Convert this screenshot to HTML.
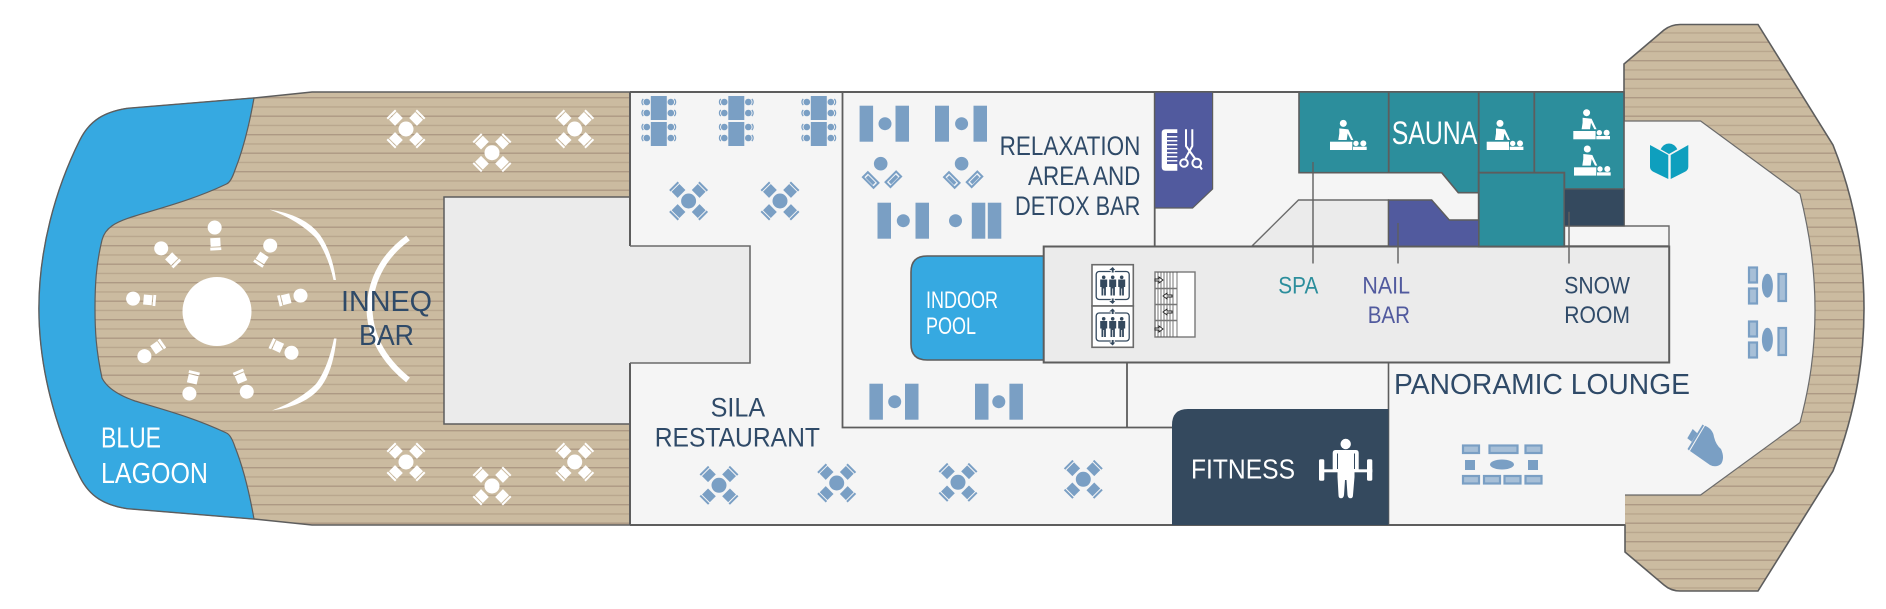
<!DOCTYPE html>
<html><head><meta charset="utf-8"><title>Deck plan</title>
<style>
html,body{margin:0;padding:0;background:#fff}
svg{display:block}
text{font-family:"Liberation Sans",sans-serif}
</style></head><body>
<svg xmlns="http://www.w3.org/2000/svg" width="1886" height="609" viewBox="0 0 1886 609">
<defs>
<pattern id="deck" patternUnits="userSpaceOnUse" x="0" y="97" width="20" height="18.5">
<rect width="20" height="18.5" fill="#cbbba0"/>
<rect y="0" width="20" height="1.4" fill="#ad9984"/>
<rect y="9.25" width="20" height="1.4" fill="#b9a78e"/>
</pattern>
<g id="chr"><rect x="-5.500" y="-18.500" width="11" height="8.500"/><rect x="-6" y="-21.500" width="12" height="2"/></g>
<g id="xt">
<circle r="7.500"/>
<use href="#chr" transform="rotate(45)"/>
<use href="#chr" transform="rotate(135)"/>
<use href="#chr" transform="rotate(225)"/>
<use href="#chr" transform="rotate(315)"/>
</g>
<g id="stool"><circle cx="0" cy="-16" r="7"/><rect x="-5" y="-5.500" width="10" height="8.500"/><rect x="-5.500" y="4" width="11" height="2.800"/></g>
<g id="dt">
<rect x="-8" y="-25" width="16" height="24"/><rect x="-8" y="1" width="16" height="24"/>
<circle cx="-12" cy="-19" r="3.300"/><circle cx="12" cy="-19" r="3.300"/><circle cx="-12" cy="-8" r="3.300"/><circle cx="12" cy="-8" r="3.300"/><circle cx="-12" cy="6" r="3.300"/><circle cx="12" cy="6" r="3.300"/><circle cx="-12" cy="17" r="3.300"/><circle cx="12" cy="17" r="3.300"/>
<path d="M-15.500-22a4 4 0 0 0 0 6M-15.500-11a4 4 0 0 0 0 6M-15.500 3a4 4 0 0 0 0 6M-15.500 14a4 4 0 0 0 0 6M15.500-22a4 4 0 0 1 0 6M15.500-11a4 4 0 0 1 0 6M15.500 3a4 4 0 0 1 0 6M15.500 14a4 4 0 0 1 0 6" fill="none" stroke="#7a9fc4" stroke-width="1.200"/>
</g>
<g id="lch"><rect x="-8.500" y="-4.500" width="17" height="9" fill="#7a9fc4"/><rect x="-6.500" y="-2.500" width="13" height="5" fill="#eef2f6"/><rect x="-5" y="-1.500" width="10" height="3.500" fill="#7a9fc4"/></g>
<g id="mass" fill="#fff">
<rect x="0" y="0" width="22.300" height="8.300"/><rect x="23" y="5" width="13.700" height="3.300"/>
<circle cx="13.300" cy="-18.300" r="3.500"/><circle cx="26" cy="1.700" r="2.700"/><circle cx="33.300" cy="1.700" r="3"/>
<path d="M9.300-13.300L18.300-12.300 23.300-1.700H21L17.700-8.300 16.700-1.700H8.300L9.300-8.300Z"/>
</g>
<g id="lift">
<path d="M-10-14h-3.500a3 3 0 0 0-3 3v22a3 3 0 0 0 3 3h3.500M10-14h3.500a3 3 0 0 1 3 3v22a3 3 0 0 1-3 3h-3.500M-10-14h8M2-14h8M-10 14h8M2 14h8" fill="none" stroke="#34495e" stroke-width="1.300"/>
<g fill="#34495e">
<path d="M0-18.500l2.500 3H1v2.500h-2v-2.500h-2.500zM0 18.500l2.500-3H1V13h-2v2.500h-2.500z"/>
<circle cx="-9" cy="-8.200" r="1.800"/><path d="M-12.500-6h7v7.500h-1.300V10h-1.800V3h-.8v7h-1.800V1.500h-1.300z"/>
<circle cx="0" cy="-8.200" r="1.800"/><path d="M-3.500-6h7v7.500H2.200V10H.4V3h-.8v7h-1.800V1.500h-1.300z"/>
<circle cx="9" cy="-8.200" r="1.800"/><path d="M5.500-6h7v7.500h-1.300V10H9.400V3h-.8v7H6.800V1.500H5.500z"/>
</g>
</g>
<g id="lc"><rect x="1" y="1" width="7.500" height="15" fill="#a7bfd7" stroke="#7a9fc4" stroke-width="2"/></g>
</defs>

<!-- aft deck -->
<path d="M1624 64L1664 30Q1671 24.500 1680 24.500H1758L1833 145C1853 195 1864 250 1864 308.500C1864 367 1853 420 1833 471L1758 591H1680Q1671 591 1664 585L1625 552V525H1624V64Z" fill="url(#deck)" stroke="#5d5d5d" stroke-width="1.600"/>
<!-- forward deck -->
<path d="M630 92H312L254 98 126.500 108.500C105 112 90 120 80 140C55 190 39 250 39 308.500C39 367 55 427 80 477C90 497 105 505 126.500 508.500L254 519 312 525H630Z" fill="url(#deck)" stroke="#5d5d5d" stroke-width="1.600"/>
<!-- blue lagoon -->
<path d="M254 98L126.500 108.500C105 112 90 120 80 140C55 190 39 250 39 308.500C39 367 55 427 80 477C90 497 105 505 126.500 508.500L254 519C248 485 241 462 235 447 232 438 229 434 226.500 433 195 418 165 410 135 401 115 394 106 386 102 378 96 350 95 330 95 308.500 95 285 96 265 102 240 105 228 115 222 135 216 165 207 195 199 226.500 184 229 183 232 179 235 170 241 155 248 132 254 98Z" fill="#36a9e1" stroke="#5d5d5d" stroke-width="1.200"/>
<!-- grey box on deck -->
<rect x="444" y="197" width="186" height="227" fill="#ebebeb" stroke="#5d5d5d" stroke-width="1.500"/>
<!-- interior -->
<path d="M630 92H1624V121H1700.600L1800 194C1810 235 1815 270 1815 310C1815 350 1810 385 1800 422.500L1700.600 495H1625V525H630Z" fill="#f5f5f5"/>
<path d="M1624 121H1700.600L1800 194C1810 235 1815 270 1815 310C1815 350 1810 385 1800 422.500L1700.600 495H1625" fill="none" stroke="#6b6b6b" stroke-width="1.200"/>
<path d="M630 92H1624M630 525H1625M630 92V525" fill="none" stroke="#5d5d5d" stroke-width="2"/>
<!-- corridor -->
<rect x="629" y="246" width="121" height="117" fill="#ebebeb"/>
<path d="M630 246H750V363H630" fill="none" stroke="#6b6b6b" stroke-width="1.600"/>
<!-- relaxation room -->
<path d="M842.500 92V427.500H1172M1154.700 92V246M1127 363V427.500" fill="none" stroke="#5d5d5d" stroke-width="1.800"/>
<!-- hair salon -->
<path d="M1154.700 92H1212.600V189L1192.600 208H1154.700Z" fill="#515a9e" stroke="#5d5d5d" stroke-width="1.200"/>
<!-- indoor pool -->
<path d="M1044 256H927Q911 256 911 272V344Q911 360 927 360H1044Z" fill="#36a9e1" stroke="#5d5d5d" stroke-width="1.600"/>
<!-- trapezoid -->
<path d="M1252 246L1298.500 200H1388.500V246Z" fill="#ebebeb" stroke="#6b6b6b" stroke-width="1.400"/>
<!-- core -->
<rect x="1043.700" y="246.500" width="625.500" height="116" fill="#ebebeb" stroke="#5d5d5d" stroke-width="2"/>
<path d="M1564 226H1669V246H1564Z" fill="#f5f5f5" stroke="#6b6b6b" stroke-width="1.400"/>
<path d="M1388.500 363V525" fill="none" stroke="#5d5d5d" stroke-width="1.600"/>
<!-- spa -->
<path d="M1299 92H1624V189H1564.300V172.700H1478.700V192.700H1458.300L1441.700 172.700H1299Z" fill="#2c8e9c" stroke="#5d5d5d" stroke-width="1.600"/>
<rect x="1478.700" y="172.700" width="85.600" height="74" fill="#2c8e9c" stroke="#5d5d5d" stroke-width="1.800"/>
<rect x="1564.300" y="189" width="60" height="37" fill="#34495e" stroke="#5d5d5d" stroke-width="1.200"/>
<path d="M1388.500 200H1431.700L1449.300 220H1478.700V246.500H1388.500Z" fill="#515a9e" stroke="#5d5d5d" stroke-width="1.400"/>
<path d="M1388.700 92V172.700M1478.700 92V172.700M1534.300 92V172.700M1043.700 246.500H1669.200" fill="none" stroke="#5d5d5d" stroke-width="1.800"/>
<!-- callouts -->
<path d="M1313 162V263.500M1398 223V263.500M1569 211.700V263.500" fill="none" stroke="#5f5f5f" stroke-width="1.400"/>
<!-- fitness -->
<path d="M1172 525V425Q1172 409 1188 409H1388.500V525Z" fill="#34495e"/>

<!-- white deck furniture -->
<g fill="#fff">
<circle cx="217" cy="311.500" r="34.500"/>
<use href="#xt" x="406" y="129"/><use href="#xt" x="492" y="152.700"/><use href="#xt" x="574.700" y="129"/>
<use href="#xt" x="406" y="462"/><use href="#xt" x="492" y="486"/><use href="#xt" x="574.700" y="462"/>
<use href="#stool" transform="translate(215.500,243.500) rotate(-3)"/>
<use href="#stool" transform="translate(172.500,259.700) rotate(-45)"/>
<use href="#stool" transform="translate(261.500,259) rotate(33)"/>
<use href="#stool" transform="translate(149,300) rotate(-85)"/>
<use href="#stool" transform="translate(285,299.500) rotate(76)"/>
<use href="#stool" transform="translate(157.500,347) rotate(-125)"/>
<use href="#stool" transform="translate(277,346) rotate(115)"/>
<use href="#stool" transform="translate(193,378) rotate(-167)"/>
<use href="#stool" transform="translate(240.500,377) rotate(157)"/>
<path d="M269.500 209.500Q305 215 320 235 332 252 336 280H333.500Q328 255 316 238 298 220 269.500 209.500Z"/>
<path d="M272 410.500Q305 406 320 388 333 372 336.500 338.500H334Q328 368 316 384 300 400 272 410.500Z"/>
<path d="M408 238Q371 265 369.500 310 371 350 408 380" fill="none" stroke="#fff" stroke-width="6"/>
</g>

<!-- blue tables -->
<g fill="#7a9fc4">
<use href="#xt" x="688.600" y="201"/><use href="#xt" x="780" y="201"/>
<use href="#xt" x="719" y="485.300"/><use href="#xt" x="836.700" y="483"/><use href="#xt" x="958" y="482.300"/><use href="#xt" x="1083.300" y="479.300"/>
<use href="#dt" x="658.800" y="121"/><use href="#dt" x="736.300" y="121"/><use href="#dt" x="818.800" y="121"/>
<rect x="859.600" y="105.700" width="13.500" height="36"/><circle cx="885" cy="123.700" r="6.500"/><rect x="895.500" y="105.700" width="13.500" height="36"/>
<rect x="935" y="105.700" width="14" height="36"/><circle cx="961.600" cy="123.700" r="6.500"/><rect x="973.500" y="105.700" width="13.500" height="36"/>
<rect x="877.500" y="202.700" width="13.500" height="36"/><circle cx="903.300" cy="220.700" r="6.500"/><rect x="915.500" y="202.700" width="13.500" height="36"/>
<circle cx="955.500" cy="220.700" r="6.500"/><rect x="971.800" y="202.700" width="13.500" height="36"/><rect x="987.800" y="202.700" width="13.500" height="36"/>
<rect x="869.400" y="383.700" width="13.500" height="36"/><circle cx="894.700" cy="401.700" r="6.500"/><rect x="905" y="383.700" width="13.500" height="36"/>
<rect x="975" y="383.700" width="13.500" height="36"/><circle cx="998.800" cy="401.700" r="6.500"/><rect x="1009.400" y="383.700" width="13.500" height="36"/>
<circle cx="880.700" cy="163.700" r="6.800"/><use href="#lch" transform="translate(870.700,180) rotate(45)"/><use href="#lch" transform="translate(893.300,179.300) rotate(-45)"/>
<circle cx="961.600" cy="163.700" r="6.800"/><use href="#lch" transform="translate(951.800,180) rotate(45)"/><use href="#lch" transform="translate(974.500,179.300) rotate(-45)"/>
<!-- right lounge -->
<ellipse cx="1767.400" cy="285.700" rx="5.500" ry="12"/><ellipse cx="1767.400" cy="339.700" rx="5.500" ry="12"/>
<g fill="#a7bfd7" stroke="#7a9fc4" stroke-width="2.200">
<rect x="1749" y="267.500" width="8" height="15"/><rect x="1749" y="288.500" width="8" height="15"/><rect x="1778.500" y="274" width="7.500" height="27"/>
<rect x="1749" y="321.500" width="8" height="15"/><rect x="1749" y="342.500" width="8" height="15"/><rect x="1778.500" y="328" width="7.500" height="27"/>
<rect x="1463" y="445.500" width="16" height="7.500"/><rect x="1489.500" y="445.500" width="28" height="7.500"/><rect x="1525.500" y="445.500" width="16" height="7.500"/>
<rect x="1463" y="476" width="16" height="7.500"/><rect x="1484" y="476" width="16" height="7.500"/><rect x="1504.500" y="476" width="16" height="7.500"/><rect x="1525.500" y="476" width="16" height="7.500"/>
</g>
<ellipse cx="1502" cy="464.500" rx="12" ry="5"/><rect x="1465" y="460" width="10" height="10"/><rect x="1528" y="460" width="10" height="10"/>
<!-- piano -->
<path d="M1690 451L1705 425.700Q1713 429 1714 437 1716 445 1721 449 1725 458 1721 464 1716 468 1710 465Z"/>
<path d="M1687.500 449L1702.500 424.500 1704 425.500 1689 450.500Z"/>
<path d="M1687.300 438.300L1692.700 429 1697.300 433.300 1691.700 441.700Z"/>
</g>

<!-- book -->
<path d="M1650 145L1668.300 155V179L1653.300 171.700Q1650 170 1650 166.700ZM1688.300 145L1670.700 155V179L1685 171.700Q1688.300 170 1688.300 166.700Z" fill="#0e9fbe"/>
<path d="M1660.700 149.300A9 9.500 0 0 1 1677.300 149.300L1669 154Z" fill="#0e9fbe"/>

<!-- massage -->
<use href="#mass" x="1330" y="141.700"/><use href="#mass" x="1486.700" y="141.700"/><use href="#mass" x="1573.300" y="131"/><use href="#mass" x="1574" y="167.300"/>

<!-- hair -->
<path d="M1165.500 129.300H1177.300V133H1167V136H1177.300V137.500H1167V140H1177.300V141.500H1167V144H1177.300V145.500H1167V148H1177.300V149.500H1167V152H1177.300V153.500H1167V156H1177.300V157.500H1167V160H1177.300V161.500H1167V164H1177.300V170.700H1165.500Q1161.700 170.700 1161.700 167V133Q1161.700 129.300 1165.500 129.300Z" fill="#fff"/>
<g fill="none" stroke="#fff" stroke-width="2">
<path d="M1186 129.300V146L1195 158.500M1192.300 129.300V146L1185.500 158.500"/>
<circle cx="1184" cy="163" r="3.800"/><circle cx="1196.700" cy="163" r="4.300"/><path d="M1199.500 166L1202 169.500"/>
</g>

<!-- fitness icon -->
<g fill="#fff">
<circle cx="1345.700" cy="444" r="5.200"/>
<path d="M1335.500 450H1356Q1358.700 450 1358.700 453V471.500H1354.500V477L1353 495Q1353 498.300 1350.500 498.300 1348 498.300 1347.500 495L1346.500 480H1345L1344 495Q1343.500 498.300 1341 498.300 1338.500 498.300 1338.500 495L1337.500 477V471.500H1332.700V453Q1332.700 450 1335.500 450Z"/>
<rect x="1319" y="469.300" width="53.300" height="3"/>
<rect x="1319" y="459.300" width="5.300" height="21.400" rx="1.500"/><rect x="1367" y="459.300" width="5.300" height="21.400" rx="1.500"/>
</g>
<path d="M1337.500 453.500V469M1354.500 453.500V469" stroke="#34495e" stroke-width="1" fill="none"/>

<!-- lifts -->
<rect x="1092" y="264.700" width="41.300" height="41.300" fill="#fff" stroke="#6b6b6b" stroke-width="1.600"/>
<rect x="1092" y="306" width="41.300" height="41.300" fill="#fff" stroke="#6b6b6b" stroke-width="1.600"/>
<use href="#lift" x="1112.700" y="285.500"/><use href="#lift" x="1112.700" y="327"/>
<!-- stairs -->
<rect x="1155" y="272" width="40" height="65" fill="#fff" stroke="#777" stroke-width="1.400"/>
<path d="M1158 272V337M1161 272V337M1164 272V337M1167 272V337M1170 272V337M1173 272V337M1177 272V337" stroke="#555" stroke-width=".8" fill="none"/>
<path d="M1155 288.500H1177M1155 304.500H1177M1155 320.500H1177" stroke="#777" stroke-width="1.500" fill="none"/>
<g fill="#fff" stroke="#222" stroke-width=".9">
<path d="M1155 279h4v-2l4 3-4 3v-2h-4z"/><path d="M1172 297h-5v2l-4-3 4-3v2h5z"/><path d="M1172 313h-5v2l-4-3 4-3v2h5z"/><path d="M1155 328h4v-2l4 3-4 3v-2h-4z"/>
</g>

<!-- labels -->
<g fill="#2f4a68" font-size="27">
<text x="341" y="311" font-size="29" textLength="91" lengthAdjust="spacingAndGlyphs">INNEQ</text>
<text x="359" y="345" font-size="29" textLength="55" lengthAdjust="spacingAndGlyphs">BAR</text>
<text x="710.600" y="416.700" textLength="54.500" lengthAdjust="spacingAndGlyphs">SILA</text>
<text x="654.700" y="446.700" textLength="165.300" lengthAdjust="spacingAndGlyphs">RESTAURANT</text>
<text x="999.600" y="155" textLength="140.800" lengthAdjust="spacingAndGlyphs">RELAXATION</text>
<text x="1028" y="185" textLength="112.400" lengthAdjust="spacingAndGlyphs">AREA AND</text>
<text x="1015" y="215" textLength="125.400" lengthAdjust="spacingAndGlyphs">DETOX BAR</text>
<text x="1394" y="394" font-size="29" textLength="296" lengthAdjust="spacingAndGlyphs">PANORAMIC LOUNGE</text>
<text x="1564.300" y="293.400" font-size="24" textLength="65.700" lengthAdjust="spacingAndGlyphs">SNOW</text>
<text x="1564.300" y="323" font-size="24" textLength="65.700" lengthAdjust="spacingAndGlyphs">ROOM</text>
</g>
<g fill="#fff">
<text x="101" y="447.700" font-size="29" textLength="60" lengthAdjust="spacingAndGlyphs">BLUE</text>
<text x="101" y="483" font-size="29" textLength="107" lengthAdjust="spacingAndGlyphs">LAGOON</text>
<text x="926" y="308" font-size="24" textLength="72" lengthAdjust="spacingAndGlyphs">INDOOR</text>
<text x="926" y="334" font-size="24" textLength="50" lengthAdjust="spacingAndGlyphs">POOL</text>
<text x="1391.700" y="144" font-size="32" textLength="85.600" lengthAdjust="spacingAndGlyphs">SAUNA</text>
<text x="1191" y="478.700" font-size="28" textLength="104" lengthAdjust="spacingAndGlyphs">FITNESS</text>
</g>
<text x="1278.300" y="293.400" font-size="24" fill="#2c8e9c" textLength="40" lengthAdjust="spacingAndGlyphs">SPA</text>
<g fill="#515a9e" font-size="24">
<text x="1362.400" y="293.400" textLength="47.600" lengthAdjust="spacingAndGlyphs">NAIL</text>
<text x="1367.700" y="323" textLength="42.300" lengthAdjust="spacingAndGlyphs">BAR</text>
</g>
</svg>
</body></html>
